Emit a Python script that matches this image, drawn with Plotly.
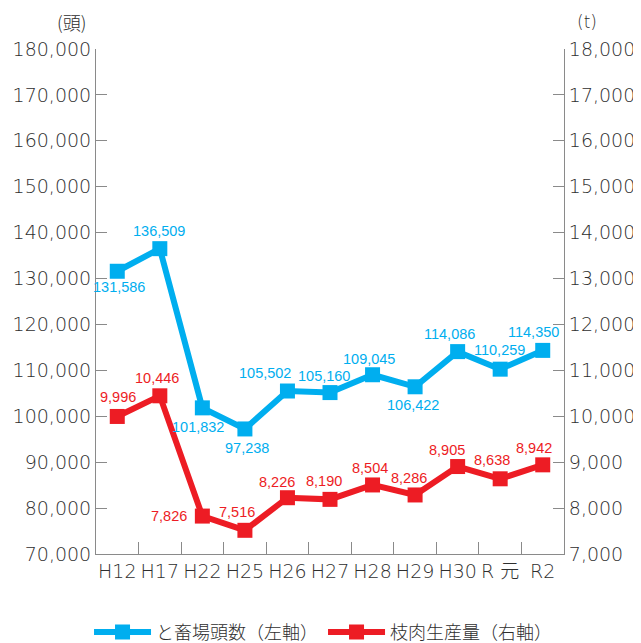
import plotly.graph_objects as go

categories = ["H12", "H17", "H22", "H25", "H26", "H27", "H28", "H29", "H30", "R 元", "R2"]
heads = [131586, 136509, 101832, 97238, 105502, 105160, 109045, 106422, 114086, 110259, 114350]
meat = [9996, 10446, 7826, 7516, 8226, 8190, 8504, 8286, 8905, 8638, 8942]
heads_name = "と畜場頭数（左軸）"
meat_name = "枝肉生産量（右軸）"
left_ticks = list(range(70000, 180001, 10000))
right_ticks = list(range(7000, 18001, 1000))

BLUE = "#00AEEF"
RED = "#ED1C24"
AX = "#8a8a8a"
TXT = "#2e2e2e"

# label offsets (pixels) relative to markers
blue_off = [(2, -16), (-1, 18), (-4, -19), (2, -19), (-22, 18), (-6, 17), (-4, 16),
            (-2, -18), (-8, 18), (-1, 19), (-9, 18)]
red_off = [(1, 19), (-3, 18), (-33, 0), (-8, 18), (-10, 16), (-6, 18), (-3, 17),
           (-6, 17), (-11, 17), (-8, 19), (-9, 17)]

fig = go.Figure()
fig.add_trace(go.Scatter(x=categories, y=heads, name=heads_name, mode="lines+markers",
                         line=dict(color=BLUE, width=6),
                         marker=dict(symbol="square", size=15, color=BLUE)))
fig.add_trace(go.Scatter(x=categories, y=meat, name=meat_name, mode="lines+markers",
                         yaxis="y2",
                         line=dict(color=RED, width=6),
                         marker=dict(symbol="square", size=15, color=RED)))

LABEL_FONT = "Liberation Sans Narrow, Liberation Sans, sans-serif"
ann = []
for c, v, (dx, dy) in zip(categories, heads, blue_off):
    ann.append(dict(x=c, y=v, xref="x", yref="y", text=f"{v:,}", showarrow=False,
                    xshift=dx, yshift=dy, font=dict(family=LABEL_FONT, size=14.5, color=BLUE)))
for c, v, (dx, dy) in zip(categories, meat, red_off):
    ann.append(dict(x=c, y=v, xref="x", yref="y2", text=f"{v:,}", showarrow=False,
                    xshift=dx, yshift=dy, font=dict(family=LABEL_FONT, size=14.5, color=RED)))
ann.append(dict(x=-0.017, y=1.0535, xref="paper", yref="paper", text="(頭)", showarrow=False,
                xanchor="right", yanchor="middle",
                font=dict(family="Noto Sans CJK JP", size=18, color=TXT, weight=300)))
ann.append(dict(x=1.0235, y=1.0535, xref="paper", yref="paper", text="(t)", showarrow=False,
                xanchor="left", yanchor="middle",
                font=dict(family="DejaVu Sans", size=17, color=TXT, weight=200)))

TICKFONT = dict(family="DejaVu Sans, Noto Sans CJK JP", size=19, color=TXT, weight=200)

# the page body has an 8px default margin, so the figure is 8px smaller than the window
fig.update_layout(
    width=633, height=635,
    margin=dict(l=88, r=77, t=41, b=89),
    plot_bgcolor="white", paper_bgcolor="white",
    showlegend=True,
    legend=dict(orientation="h", x=0.128, y=0.017, xref="container", yref="container",
                xanchor="left", yanchor="middle",
                font=dict(family="Noto Sans CJK JP", size=18, color=TXT, weight=300),
                itemwidth=57, bgcolor="rgba(0,0,0,0)"),
    annotations=ann,
    xaxis=dict(type="category", range=[-0.5, 10.5], showline=True, linecolor=AX, linewidth=1,
               ticks="inside", tickson="boundaries", ticklen=12, tickcolor=AX,
               showgrid=False, tickangle=0, automargin=False, tickfont=TICKFONT),
    yaxis=dict(range=[70000, 180000], tickvals=left_ticks, tickformat=",",
               showline=True, linecolor=AX, linewidth=1, ticks="inside", ticklen=11,
               tickcolor=AX, showgrid=False, zeroline=False, automargin=False,
               tickfont=TICKFONT),
    yaxis2=dict(range=[7000, 18000], tickvals=right_ticks, tickformat=",", overlaying="y",
                side="right", showline=True, linecolor=AX, linewidth=1, ticks="inside",
                ticklen=11, tickcolor=AX, showgrid=False, zeroline=False, automargin=False,
                tickfont=TICKFONT),
)

fig.write_html("out.html")
